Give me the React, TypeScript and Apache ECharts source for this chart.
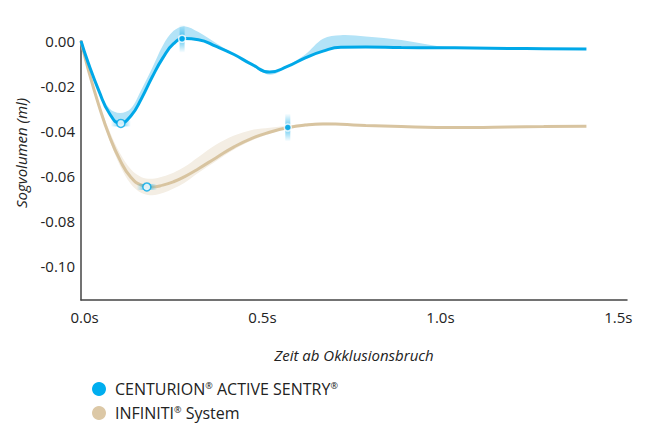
import React, { useEffect, useRef } from 'react';
import * as echarts from 'echarts';

// time after occlusion break (s)
const TIMES = [0, 0.02, 0.05, 0.08, 0.11, 0.14, 0.17, 0.2, 0.23, 0.26, 0.29, 0.33, 0.38, 0.43, 0.48, 0.53, 0.58, 0.63, 0.68, 0.73, 0.8, 0.9, 1.0, 1.1, 1.2, 1.3, 1.42];

// CENTURION ACTIVE SENTRY (ml)
const CENTURION = [0, -0.0096, -0.022, -0.0322, -0.0365, -0.0333, -0.0255, -0.016, -0.0075, -0.0012, 0.0011, 0.0006, -0.0024, -0.006, -0.0104, -0.0138, -0.0113, -0.0075, -0.0045, -0.0028, -0.0027, -0.0029, -0.003, -0.0031, -0.0033, -0.0034, -0.0036];
const CENTURION_LOW = [0, -0.0096, -0.0222, -0.0325, -0.0368, -0.0336, -0.0258, -0.0163, -0.0078, -0.0015, 0.0008, 0.0003, -0.0026, -0.0062, -0.011, -0.015, -0.0118, -0.0077, -0.0046, -0.0029, -0.0028, -0.003, -0.0031, -0.0032, -0.0033, -0.0034, -0.0036];
const CENTURION_HIGH = [0, -0.0096, -0.0215, -0.03, -0.032, -0.03, -0.0215, -0.012, -0.002, 0.0045, 0.0066, 0.004, -0.001, -0.0058, -0.0102, -0.0136, -0.0108, -0.006, 0.001, 0.0026, 0.002, 0.0004, -0.0022, -0.003, -0.0033, -0.0034, -0.0036];

// INFINITI System (ml)
const INFINITI = [0, -0.0125, -0.0285, -0.0423, -0.053, -0.0605, -0.064, -0.0648, -0.064, -0.0625, -0.0603, -0.0567, -0.0518, -0.047, -0.0432, -0.0405, -0.0385, -0.0373, -0.0368, -0.037, -0.0375, -0.038, -0.0384, -0.0384, -0.0382, -0.038, -0.0378];
const INFINITI_LOW = [0, -0.0128, -0.0295, -0.044, -0.0555, -0.0635, -0.0675, -0.0685, -0.0675, -0.0655, -0.063, -0.0585, -0.0533, -0.0482, -0.0442, -0.0412, -0.0389, -0.0376, -0.037, -0.0372, -0.0377, -0.038, -0.0384, -0.0384, -0.0382, -0.038, -0.0378];
const INFINITI_HIGH = [0, -0.012, -0.0272, -0.04, -0.05, -0.057, -0.0605, -0.0612, -0.0602, -0.0585, -0.056, -0.0515, -0.046, -0.042, -0.0395, -0.0385, -0.0376, -0.0366, -0.0362, -0.0366, -0.0373, -0.038, -0.0384, -0.0384, -0.0382, -0.038, -0.0378];

// highlighted points
const MIN_POINTS = [[0.112, -0.0366], [0.185, -0.0648]];
const PEAK_POINTS = [[0.284, 0.001], [0.581, -0.0384]];

const SERIES_NAMES = ['CENTURION® ACTIVE SENTRY®', 'INFINITI® System'];
const X_TICKS = [0, 0.5, 1.0, 1.5];
const Y_TICKS = [0, -0.02, -0.04, -0.06, -0.08, -0.1];

const BLUE = '#00a8e8';
const BEIGE = '#d8c4a0';
const FONT = "'Open Sans', sans-serif";

const pairs = (ys: number[]) => TIMES.map((t, i) => [t, ys[i]]);
const isTick = (v: number, ticks: number[]) => ticks.some(t => Math.abs(t - v) < 1e-6);

// shaded range drawn as one smooth polygon
const bandSeries = (name: string, lo: number[], hi: number[], color: string) => ({
  name,
  type: 'custom',
  data: TIMES.map((t, i) => [t, lo[i], hi[i]]),
  encode: { x: 0, y: [1, 2] },
  silent: true,
  clip: false,
  z: 1,
  renderItem: (params: any, api: any) => {
    if (params.dataIndex !== 0) return null;
    const upper = TIMES.map((t, i) => api.coord([t, hi[i]]));
    const lower = TIMES.map((t, i) => api.coord([t, lo[i]]));
    const points = upper.concat(lower.slice(1, -1).reverse());
    return {
      type: 'polygon',
      shape: { points, smooth: 0.35 },
      style: { fill: color }
    };
  }
});

const App: React.FC = () => {
  const chartRef = useRef<HTMLDivElement>(null);

  useEffect(() => {
    if (!chartRef.current) return;
    const chart = echarts.init(chartRef.current, null, { renderer: 'svg' });

    const hBar = new echarts.graphic.LinearGradient(0, 0, 1, 0, [
      { offset: 0, color: 'rgba(0,168,232,0)' },
      { offset: 0.5, color: 'rgba(0,168,232,0.8)' },
      { offset: 1, color: 'rgba(0,168,232,0)' }
    ]);
    const vBar = new echarts.graphic.LinearGradient(0, 0, 0, 1, [
      { offset: 0, color: 'rgba(0,168,232,0)' },
      { offset: 0.5, color: 'rgba(0,168,232,0.8)' },
      { offset: 1, color: 'rgba(0,168,232,0)' }
    ]);

    const option: any = {
      animation: false,
      backgroundColor: '#ffffff',
      textStyle: { fontFamily: FONT },
      grid: { left: 81, right: 18, top: 41, bottom: 142 },
      xAxis: {
        type: 'value',
        min: 0,
        max: 1.534,
        interval: 0.5,
        name: 'Zeit ab Okklusionsbruch',
        nameLocation: 'middle',
        nameGap: 47,
        nameTextStyle: { fontFamily: FONT, fontSize: 15, fontStyle: 'italic', color: '#222' },
        axisLine: { show: true, onZero: false, lineStyle: { color: '#444', width: 1.5 } },
        axisTick: { show: false },
        splitLine: { show: false },
        axisLabel: {
          margin: 9,
          fontSize: 15,
          color: '#222',
          fontFamily: FONT,
          padding: [0, 0, 0, 7],
          showMaxLabel: true,
          formatter: (v: number) => (isTick(v, X_TICKS) ? v.toFixed(1) + 's' : '')
        }
      },
      yAxis: {
        type: 'value',
        min: -0.115,
        max: 0,
        axisLine: { show: true, onZero: false, lineStyle: { color: '#444', width: 1.5 } },
        axisTick: { show: false },
        splitLine: { show: false },
        axisLabel: {
          margin: 6,
          fontSize: 15,
          color: '#222',
          fontFamily: FONT,
          formatter: (v: number) => (isTick(v, Y_TICKS) ? (Math.abs(v) < 1e-9 ? '0.00' : v.toFixed(2)) : '')
        }
      },
      legend: {
        data: SERIES_NAMES,
        orient: 'vertical',
        left: 87,
        top: 376,
        icon: 'circle',
        itemWidth: 14,
        itemHeight: 14,
        itemGap: 8,
        selectedMode: false,
        formatter: (name: string) => name.replace(/®/g, '{r|®}'),
        textStyle: {
          fontFamily: FONT,
          fontSize: 16,
          color: '#222',
          padding: [0, 0, 0, 4],
          rich: {
            r: { fontFamily: FONT, fontSize: 9, color: '#222', verticalAlign: 'top', padding: [0, 0, 6, 0] }
          }
        }
      },
      graphic: [
        {
          type: 'text',
          x: 21,
          y: 153,
          rotation: Math.PI / 2,
          style: {
            text: 'Sogvolumen (ml)',
            font: `italic 15px ${FONT}`,
            fill: '#222',
            align: 'center',
            verticalAlign: 'middle'
          }
        }
      ],
      series: [
        bandSeries('centurionRange', CENTURION_LOW, CENTURION_HIGH, '#b3e3f7'),
        bandSeries('infinitiRange', INFINITI_LOW, INFINITI_HIGH, '#f4eee4'),
        {
          name: SERIES_NAMES[1],
          type: 'line',
          data: pairs(INFINITI),
          smooth: 0.5,
          symbol: 'none',
          clip: false,
          color: BEIGE,
          itemStyle: { color: '#dcc8a6' },
          lineStyle: { color: BEIGE, width: 3 },
          z: 2
        },
        {
          name: SERIES_NAMES[0],
          type: 'line',
          data: pairs(CENTURION),
          smooth: 0.5,
          symbol: 'none',
          clip: false,
          color: BLUE,
          itemStyle: { color: '#00aeef' },
          lineStyle: { color: BLUE, width: 3 },
          z: 3
        },
        {
          name: 'minBar',
          type: 'scatter',
          data: MIN_POINTS,
          symbol: 'rect',
          symbolSize: [20, 6],
          itemStyle: { color: hBar },
          silent: true,
          clip: false,
          z: 4
        },
        {
          name: 'peakBar',
          type: 'scatter',
          data: PEAK_POINTS,
          symbol: 'rect',
          symbolSize: [5, 28],
          itemStyle: { color: vBar },
          silent: true,
          clip: false,
          z: 4
        },
        {
          name: 'minDot',
          type: 'scatter',
          data: MIN_POINTS,
          symbol: 'circle',
          symbolSize: 8,
          itemStyle: { color: '#ffffff', borderColor: BLUE, borderWidth: 1.5 },
          silent: true,
          clip: false,
          z: 5
        },
        {
          name: 'peakDot',
          type: 'scatter',
          data: PEAK_POINTS,
          symbol: 'circle',
          symbolSize: 7,
          itemStyle: { color: BLUE, borderColor: '#ffffff', borderWidth: 1.5 },
          silent: true,
          clip: false,
          z: 5
        }
      ]
    };

    chart.setOption(option);

    const handleResize = () => chart.resize();
    window.addEventListener('resize', handleResize);
    return () => {
      window.removeEventListener('resize', handleResize);
      chart.dispose();
    };
  }, []);

  return (
    <div
      ref={chartRef}
      style={{ position: 'fixed', left: 0, top: 0, width: '645px', height: '442px' }}
    />
  );
};

export default App;
